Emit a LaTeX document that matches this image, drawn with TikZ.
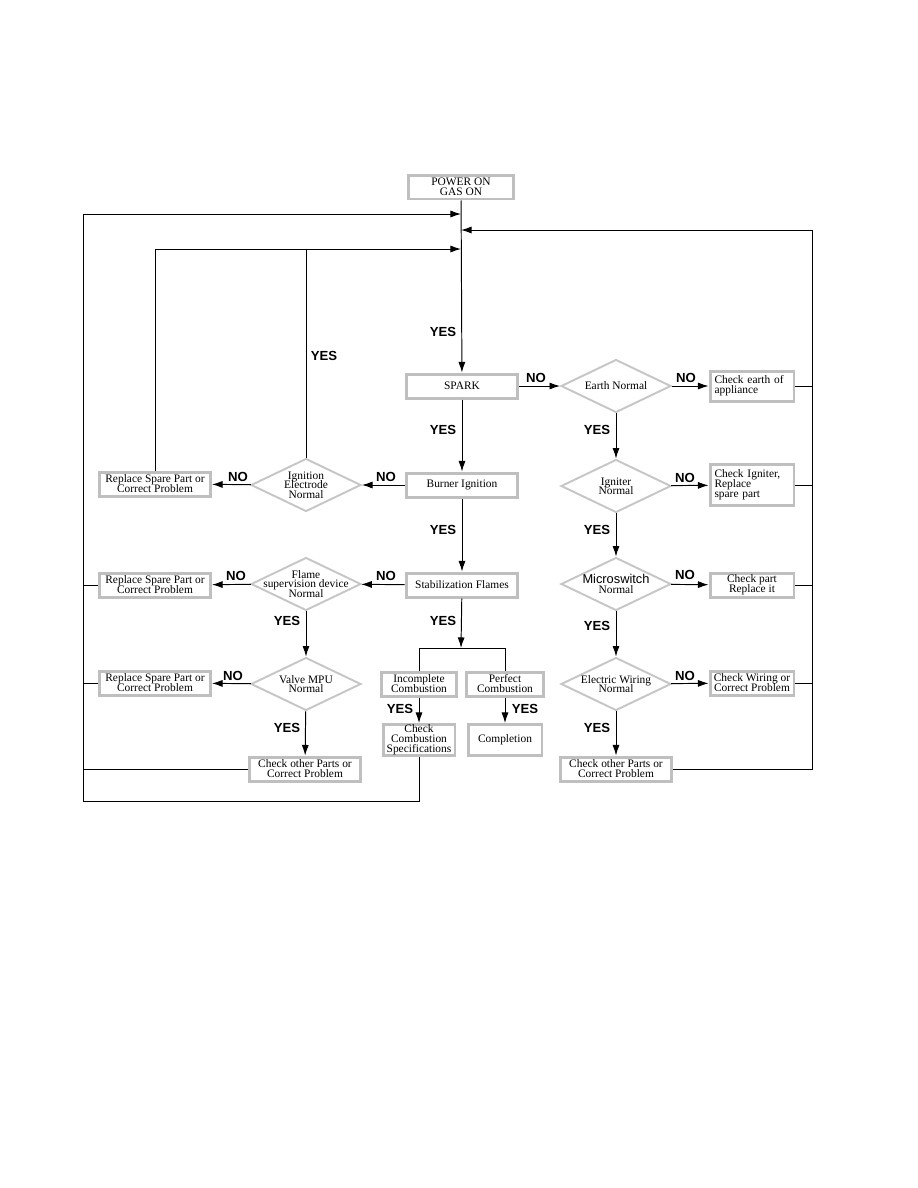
\documentclass[tikz,border=0pt]{standalone}
\usepackage{fontspec}
\setmainfont{Liberation Serif}
\setsansfont{Liberation Sans}
\usetikzlibrary{shapes.geometric,arrows.meta}

\newcommand\boxfont{\fontsize{6.5}{5.7}\selectfont\lineskiplimit=-5pt\relax}
\newcommand\testfont{\fontsize{6.5}{5.3}\selectfont\lineskiplimit=-5pt\relax}

\tikzset{
  box/.style={draw=gray!50, line width=1.7pt, fill=white, align=center,
    font=\boxfont, inner sep=1pt, minimum width=2.24cm, minimum height=0.48cm},
  leftbox/.style={box, align=left, inner sep=0pt, text width=1.5cm, minimum width=1.68cm},
  test/.style={diamond, draw=gray!45, line width=1.1pt, fill=white, align=center,
    font=\testfont, inner sep=-3pt, aspect=2, minimum width=2.2cm, minimum height=1.06cm},
  lbl/.style={font=\sffamily\bfseries\fontsize{7.5}{8}\selectfont, inner sep=0pt},
  arr/.style={-{Latex[length=6pt,width=4pt]}},
}

\begin{document}
\begin{tikzpicture}[x=0.02cm, y=-0.02cm, line width=0.55pt]
    \useasboundingbox (0,0) rectangle (918,1188);

    % Start and main column
    \node[box, minimum width=2.12cm] (power) at (461,187) {POWER ON\\GAS ON};
    \node[box] (spark) at (462,386) {SPARK};
    \node[box] (burner) at (462,485) {Burner Ignition};
    \node[box] (stab) at (462,585) {Stabilization Flames};
    \node[box, minimum width=1.5cm] (incomp) at (419,684) {Incomplete\\Combustion};
    \node[box, minimum width=1.54cm] (perf) at (505,684) {Perfect\\Combustion};
    \node[box, inner sep=0pt, minimum width=1.44cm, minimum height=0.62cm] (ccs) at (419,740) {Check\\Combustion\\Specifications};
    \node[box, minimum width=1.48cm, minimum height=0.62cm] (compl) at (505,740) {Completion};

    % Right column (electrical checks)
    \node[test] (earth) at (616,386) {Earth Normal};
    \node[test] (igniter) at (616,486) {Igniter\\Normal};
    \node[test] (micro) at (616,584) {{\sffamily\fontsize{7.3}{5.3}\selectfont Microswitch}\\Normal};
    \node[test] (wiring) at (616,684) {Electric Wiring\\Normal};
    \node[box] (parts2) at (616,769) {Check other Parts or\\Correct Problem};
    \node[leftbox, minimum height=0.6cm] (chkearth) at (752,386) {Check earth of\\appliance};
    \node[leftbox, minimum height=0.82cm] (chkign) at (752,485) {Check Igniter,\\Replace\\spare part};
    \node[box, minimum width=1.68cm] (chkpart) at (752,585) {Check part\\Replace it};
    \node[box, minimum width=1.68cm] (chkwire) at (752,683) {Check Wiring or\\Correct Problem};

    % Left column (flame checks)
    \node[test] (ignel) at (306,485) {Ignition\\Electrode\\Normal};
    \node[test, inner xsep=-10pt] (flame) at (306,584) {Flame\\supervision device\\Normal};
    \node[test] (valve) at (306,684) {Valve MPU\\Normal};
    \node[box, minimum width=2.22cm] (rep1) at (155,484) {Replace Spare Part or\\Correct Problem};
    \node[box, minimum width=2.22cm] (rep2) at (155,585) {Replace Spare Part or\\Correct Problem};
    \node[box, minimum width=2.22cm] (rep3) at (155,683) {Replace Spare Part or\\Correct Problem};
    \node[box] (parts1) at (305,769) {Check other Parts or\\Correct Problem};

    % Return points on the main line
    \coordinate (j1) at (461,214);
    \coordinate (j2) at (461,230);
    \coordinate (j3) at (461,249);
    \coordinate (lo) at (83,214);
    \coordinate (ro) at (812,230);
    \coordinate (bot) at (83,801);
    \coordinate (split) at (461,648);

    % Main flow
    \draw[arr] (power) -- (spark);
    \draw[arr] (spark) -- (burner);
    \draw[arr] (burner) -- (stab);
    \draw[arr] (stab) -- (split);
    \draw (incomp.north) -- (incomp.north |- split) -- (perf.north |- split) -- (perf.north);
    \draw[arr] (incomp) -- (ccs);
    \draw[arr] (perf) -- (compl);

    % Right flow
    \draw[arr] (spark) -- (earth);
    \draw[arr] (earth) -- (chkearth);
    \draw[arr] (earth) -- (igniter);
    \draw[arr] (igniter) -- (chkign);
    \draw[arr] (igniter) -- (micro);
    \draw[arr] (micro) -- (chkpart);
    \draw[arr] (micro) -- (wiring);
    \draw[arr] (wiring) -- (chkwire);
    \draw[arr] (wiring) -- (parts2);

    % Left flow
    \draw[arr] (burner) -- (ignel);
    \draw[arr] (ignel) -- (rep1);
    \draw[arr] (stab) -- (flame);
    \draw[arr] (flame) -- (rep2);
    \draw[arr] (flame) -- (valve);
    \draw[arr] (valve) -- (rep3);
    \draw[arr] (valve) -- (parts1);

    % Return loops
    \draw[arr] (rep1.north) -- (rep1.north |- j3) -- (j3);
    \draw (ignel.north) -- (ignel.north |- j3);
    \draw[arr] (ccs.south) -- (ccs.south |- bot) -- (bot) -- (lo) -- (j1);
    \draw (rep2.west) -- (rep2.west -| lo);
    \draw (rep3.west) -- (rep3.west -| lo);
    \draw (parts1.west) -- (parts1.west -| lo);
    \draw[arr] (parts2.east) -- (parts2.east -| ro) -- (ro) -- (j2);
    \draw (chkearth.east) -- (chkearth.east -| ro);
    \draw (chkign.east) -- (chkign.east -| ro);
    \draw (chkpart.east) -- (chkpart.east -| ro);
    \draw (chkwire.east) -- (chkwire.east -| ro);

    % YES / NO labels
    \node[lbl] (y1) at (443,332) {YES};
    \node[lbl] (y2) at (324,356) {YES};
    \node[lbl] (y3) at (443,430) {YES};
    \node[lbl] (y4) at (443,530) {YES};
    \node[lbl] (y5) at (443,621) {YES};
    \node[lbl] (y6) at (597,430) {YES};
    \node[lbl] (y7) at (597,530) {YES};
    \node[lbl] (y8) at (597,626) {YES};
    \node[lbl] (y9) at (597,728) {YES};
    \node[lbl] (y10) at (287,621) {YES};
    \node[lbl] (y11) at (287,728) {YES};
    \node[lbl] (y12) at (400,709) {YES};
    \node[lbl] (y13) at (525,709) {YES};
    \node[lbl] (n1) at (536,378) {NO};
    \node[lbl] (n2) at (686,378) {NO};
    \node[lbl] (n3) at (685,478) {NO};
    \node[lbl] (n4) at (685,575) {NO};
    \node[lbl] (n5) at (685,676) {NO};
    \node[lbl] (n6) at (386,477) {NO};
    \node[lbl] (n7) at (238,477) {NO};
    \node[lbl] (n8) at (386,576) {NO};
    \node[lbl] (n9) at (236,576) {NO};
    \node[lbl] (n10) at (233,676) {NO};
\end{tikzpicture}
\end{document}
